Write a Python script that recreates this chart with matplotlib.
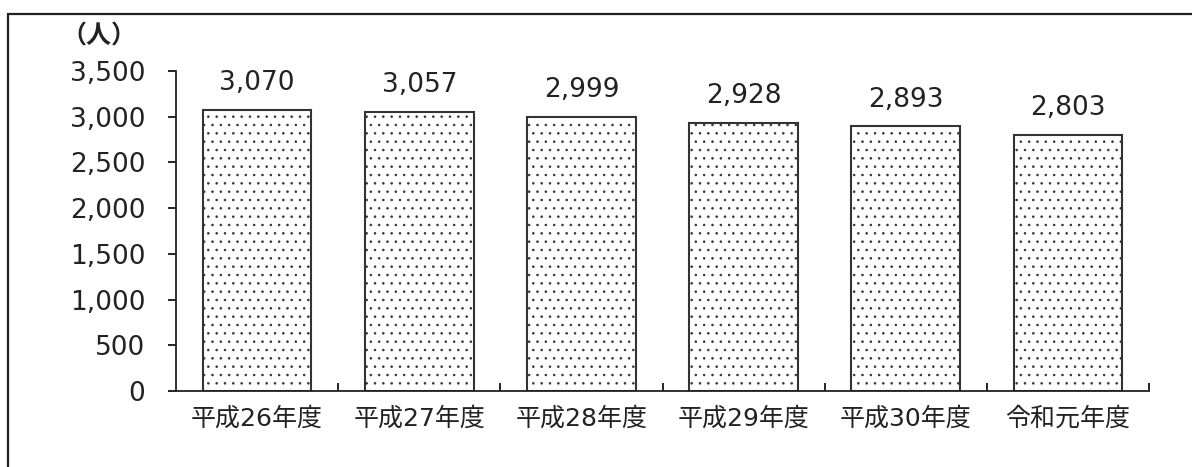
import matplotlib
matplotlib.use('Agg')
import matplotlib.pyplot as plt
from matplotlib.patches import Rectangle
import numpy as np

# DejaVu first for the wide digits, Noto CJK for the kanji
plt.rcParams['font.family'] = ['DejaVu Sans', 'Noto Sans CJK JP']
plt.rcParams['hatch.linewidth'] = 0.6
plt.rcParams['hatch.color'] = '#333333'

# data
years = ['平成26年度', '平成27年度', '平成28年度', '平成29年度', '平成30年度', '令和元年度']
persons = [3070, 3057, 2999, 2928, 2893, 2803]
yticks = [0, 500, 1000, 1500, 2000, 2500, 3000, 3500]

fig = plt.figure(figsize=(11.92, 4.67), dpi=100)

# outer frame (open at right and bottom, as in the source)
fig.patches.append(Rectangle((8/1192, -0.1), 1.2, 1 - 14/467 + 0.1,
                             transform=fig.transFigure, fill=False,
                             edgecolor='#222222', linewidth=1.6))

ax = fig.add_axes([176/1192, 1 - 391/467, (1149 - 176)/1192, 320/467])

x = np.arange(len(years))
ax.bar(x, persons, width=0.67, color='white', edgecolor='#333333',
       linewidth=1.5, hatch='..')

for xi, v in zip(x, persons):
    ax.annotate(f'{v:,}', (xi, v), xytext=(0, 10), textcoords='offset points',
                ha='center', va='bottom', fontsize=19, color='#222222')

ax.set_xlim(-0.5, len(years) - 0.5)
ax.set_ylim(0, 3500)
ax.set_yticks(yticks)
ax.set_yticklabels([f'{t:,}' for t in yticks], fontsize=19, color='#222222')
ax.set_xticks(x)
ax.set_xticklabels(years, fontsize=18, color='#222222')
ax.set_xticks(np.arange(len(years)) + 0.5, minor=True)

ax.tick_params(axis='y', direction='out', length=6, width=1.2, pad=16)
ax.tick_params(axis='x', which='major', length=0, pad=11)
ax.tick_params(axis='x', which='minor', direction='in', length=6, width=1.2)

for s in ['top', 'right']:
    ax.spines[s].set_visible(False)
for s in ['left', 'bottom']:
    ax.spines[s].set_linewidth(1.3)
    ax.spines[s].set_color('#222222')

fig.text(99/1192, 1 - 37/467, '（人）', ha='center', va='center',
         fontsize=18, fontweight='bold', color='#222222')

fig.savefig('out.png', dpi=100)
